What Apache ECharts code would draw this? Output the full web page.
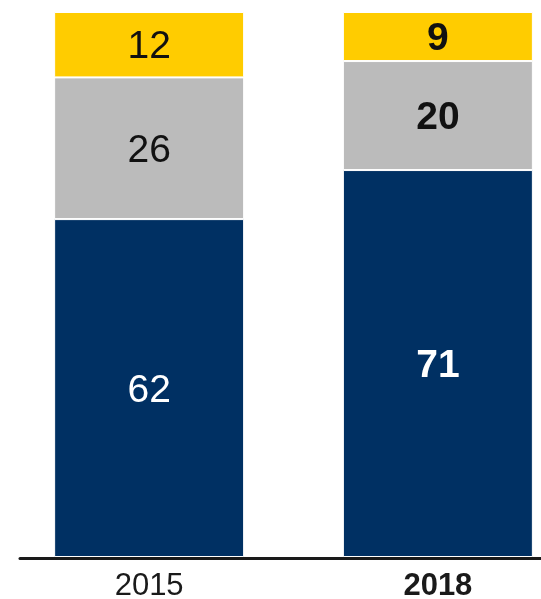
<!DOCTYPE html>
<html><head><meta charset="utf-8">
<script src="https://cdn.jsdelivr.net/npm/echarts@6/dist/echarts.min.js"></script>
<style>html,body{margin:0;padding:0;background:#fff}#c{width:541px;height:599px}</style>
</head><body><div id="c"></div>
<script>
const categories = ['2015', '2018'];
const boldCategory = '2018';
const navyValues = [62, 71];
const grayValues = [26, 20];
const yellowValues = [12, 9];

const FONT = '"Liberation Sans", Arial, sans-serif';
const colors = { navy: '#003063', gray: '#BBBBBB', yellow: '#FFCC00' };

function items(vals, textColor) {
  return vals.map((v, i) => ({
    value: v,
    label: {
      color: textColor,
      fontWeight: categories[i] === boldCategory ? 'bold' : 'normal'
    }
  }));
}

function series(name, vals, color, textColor) {
  return {
    name: name, type: 'bar', stack: 'total', xAxisIndex: 0, yAxisIndex: 0,
    barWidth: 190,
    data: items(vals, textColor),
    itemStyle: { color: color, borderColor: '#ffffff', borderWidth: 1 },
    label: { show: true, position: 'inside', fontSize: 39, fontFamily: FONT, offset: [0, 3] },
    emphasis: { disabled: true }
  };
}

const chart = echarts.init(document.getElementById('c'), null, { renderer: 'canvas' });
chart.setOption({
  animation: false,
  grid: [
    { left: 4.75, right: -41.25, top: 12, height: 545, outerBoundsMode: 'none', containLabel: false },
    { left: 20, right: 0, top: 12, height: 546.5, outerBoundsMode: 'none', containLabel: false }
  ],
  xAxis: [
    {
      type: 'category', gridIndex: 0,
      data: categories.map(c => ({ value: c, textStyle: { fontWeight: c === boldCategory ? 'bold' : 'normal' } })),
      axisLine: { show: false }, axisTick: { show: false },
      axisLabel: { fontSize: 31, fontFamily: FONT, color: '#1a1a1a', margin: 14 }
    },
    {
      type: 'category', gridIndex: 1, data: [''],
      axisLine: { show: true, lineStyle: { color: '#1a1a1a', width: 3 } },
      axisTick: { show: false }, axisLabel: { show: false }
    }
  ],
  yAxis: [
    { type: 'value', gridIndex: 0, min: 0, max: 100, show: false },
    { type: 'value', gridIndex: 1, min: 0, max: 100, show: false }
  ],
  series: [
    series('navy', navyValues, colors.navy, '#ffffff'),
    series('gray', grayValues, colors.gray, '#111111'),
    series('yellow', yellowValues, colors.yellow, '#111111')
  ]
});
</script></body></html>
